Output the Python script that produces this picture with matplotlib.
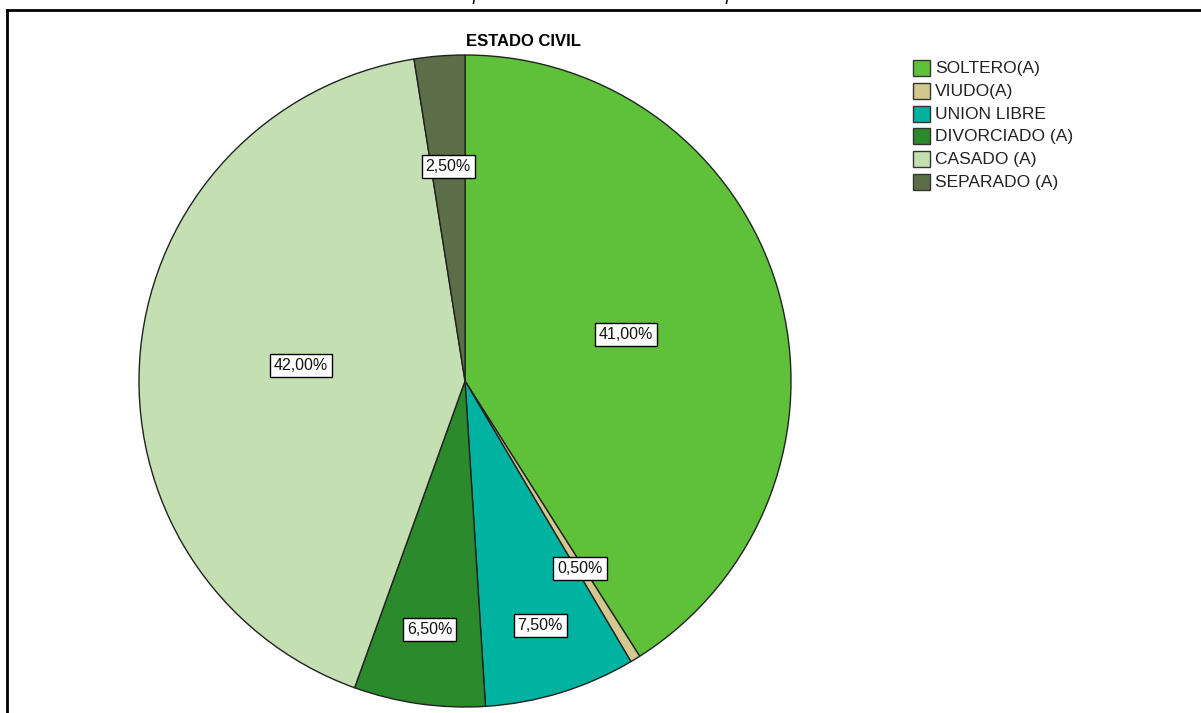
import matplotlib
matplotlib.use("Agg")
import matplotlib.pyplot as plt
from matplotlib.lines import Line2D
from matplotlib.patches import Rectangle
import numpy as np

categories = ["SOLTERO(A)", "VIUDO(A)", "UNION LIBRE", "DIVORCIADO (A)", "CASADO (A)", "SEPARADO (A)"]
values = [41.0, 0.5, 7.5, 6.5, 42.0, 2.5]
labels = ["41,00%", "0,50%", "7,50%", "6,50%", "42,00%", "2,50%"]
colors = ["#5fc13a", "#d3c88f", "#00b2a0", "#2b8a2b", "#c4e0b2", "#5b6e48"]
label_r = [0.515, 0.675, 0.785, 0.77, 0.505, 0.66]

plt.rcParams['font.family'] = ['Liberation Sans', 'DejaVu Sans']

W, H = 1201, 713
fig = plt.figure(figsize=(W / 100, H / 100), dpi=100)

cx, cy, R = 465, 381, 326
ax = fig.add_axes([(cx - R) / W, (H - cy - R) / H, 2 * R / W, 2 * R / H])
wedges, _ = ax.pie(values, colors=colors, startangle=90, counterclock=False,
                   radius=1, wedgeprops=dict(edgecolor="#222222", linewidth=1.0))
ax.set_xlim(-1, 1)
ax.set_ylim(-1, 1)
ax.set_aspect('equal')
ax.axis('off')

for w, lab, r in zip(wedges, labels, label_r):
    ang = np.deg2rad((w.theta1 + w.theta2) / 2)
    ax.text(r * np.cos(ang), r * np.sin(ang), lab, ha='center', va='center', fontsize=11.5,
            color='#111111',
            bbox=dict(boxstyle='square,pad=0.25', fc='white', ec='black', lw=1.0))

fig.text(524 / W, 1 - 42 / H, "ESTADO CIVIL", ha='center', va='center',
         fontsize=12, fontweight='bold', family=['Liberation Sans Narrow', 'Liberation Sans'])

# legend (manual layout)
leg_x0, leg_y0, row_h = 913, 60, 22.8
box_w, box_h = 17, 16
for i, (cat, col) in enumerate(zip(categories, colors)):
    ytop = leg_y0 + i * row_h
    fig.add_artist(Rectangle((leg_x0 / W, 1 - (ytop + box_h) / H), box_w / W, box_h / H,
                             transform=fig.transFigure, fc=col, ec='#333333', lw=1.0))
    fig.text((leg_x0 + box_w + 5) / W, 1 - (ytop + box_h / 2 + 0.5) / H, cat,
             ha='left', va='center', fontsize=12.5, color='#222222')

# frame lines
fig.add_artist(Line2D([7 / W, 1], [1 - 10 / H, 1 - 10 / H], transform=fig.transFigure,
                      color='black', lw=2))
fig.add_artist(Line2D([7 / W, 7 / W], [1 - 10 / H, 0], transform=fig.transFigure,
                      color='black', lw=2))

# clipped caption above
fig.text(477 / W, 1 + 0.5 / H, "p", ha='center', va='baseline', fontsize=13, style='italic')
fig.text(730 / W, 1 + 0.5 / H, "p", ha='center', va='baseline', fontsize=13, style='italic')

fig.savefig("out.png", dpi=100)
